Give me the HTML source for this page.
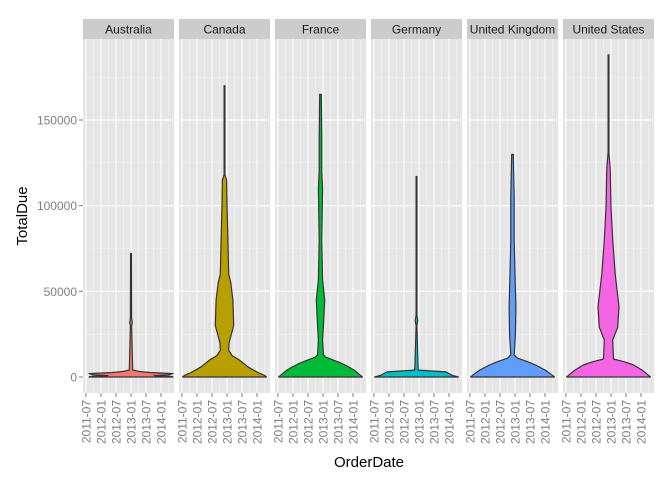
<!DOCTYPE html>
<html><head><meta charset="utf-8"><style>
html,body{margin:0;padding:0;background:#fff;}
svg{display:block;font-family:"Liberation Sans",sans-serif;}
</style></head><body>
<svg id="chart" width="672" height="480" viewBox="0 0 672 480"></svg>
<script>
const countries=["Australia","Canada","France","Germany","United Kingdom","United States"];
const colors=["#F8766D","#B79F00","#00BA38","#00BFC4","#619CFF","#F564E3"];
const yTicks=[0,50000,100000,150000];
const yTickLabels=["0","50000","100000","150000"];
const xTickLabels=["2011-07","2012-01","2012-07","2013-01","2013-07","2014-01"];
const centerMonth=[18,17,17,17,17,17];
const levAustralia=[0,400,800,1300,2000,2600,3200,4000,30000,32000,34000,72000];
const widAustralia=[1,0.95,0.55,0.9,1.0,0.45,0.2,0.04,0.015,0.03,0.015,0.01];
const levCanada=[0,1000,2500,6000,10000,12500,15500,20000,30000,45000,55000,60000,80000,100000,115000,118000,170000];
const widCanada=[1,0.95,0.8,0.55,0.35,0.18,0.1,0.11,0.22,0.2,0.15,0.1,0.08,0.06,0.05,0.01,0.005];
const levFrance=[0,1000,4000,5800,8000,10000,11600,13000,21600,35000,45000,56600,80000,110000,120000,140000,165000];
const widFrance=[1,0.95,0.8,0.68,0.5,0.3,0.12,0.07,0.05,0.08,0.1,0.05,0.03,0.05,0.03,0.03,0.02];
const levGermany=[0,1000,3000,4000,30000,33000,36000,117000];
const widGermany=[1,0.85,0.7,0.04,0.01,0.03,0.01,0.01];
const levUK=[0,1000,4000,7000,9000,11000,12800,25000,41000,60000,80000,105000,130000];
const widUK=[1,0.95,0.78,0.55,0.35,0.12,0.04,0.07,0.08,0.06,0.04,0.04,0.02];
const levUS=[0,1000,4000,7000,8700,10500,21600,29000,41000,60000,80000,99000,122000,131000,188000];
const widUS=[1,0.95,0.8,0.6,0.4,0.12,0.1,0.22,0.25,0.16,0.1,0.06,0.04,0.01,0.01];
const levels=[levAustralia,levCanada,levFrance,levGermany,levUK,levUS];
const widths=[widAustralia,widCanada,widFrance,widGermany,widUK,widUS];

const NS="http://www.w3.org/2000/svg";
const svg=document.getElementById("chart");
function mk(t,a,p){const e=document.createElementNS(NS,t);for(const k in a)e.setAttribute(k,a[k]);(p||svg).appendChild(e);return e;}
const plotTop=39,plotBottom=393,panelW=91,gap=5,left0=83;
function yS(v){return 377-v*(257/150000);}
function xS(i,m){return left0+i*(panelW+gap)+3+m*2.5;}
const halfMonths=16.8;

for(let i=0;i<countries.length;i++){
  const px=left0+i*(panelW+gap);
  const g=mk("g",{});
  
  
  const bg=mk("rect",{x:px,y:plotTop,width:panelW,height:plotBottom-plotTop,fill:"#E5E5E5"},g);
  
  
  [25000,75000,125000,175000].forEach(v=>mk("line",{x1:px,x2:px+panelW,y1:yS(v),y2:yS(v),stroke:"#F2F2F2","stroke-width":0.6},g));
  for(let k=0;k<6;k++){const x=xS(i,k*6+3);if(x<px+panelW)mk("line",{x1:x,x2:x,y1:plotTop,y2:plotBottom,stroke:"#F2F2F2","stroke-width":0.6},g);}
  yTicks.forEach(v=>mk("line",{x1:px,x2:px+panelW,y1:yS(v),y2:yS(v),stroke:"#fff","stroke-width":1.1},g));
  for(let k=0;k<6;k++){const x=xS(i,k*6);mk("line",{x1:x,x2:x,y1:plotTop,y2:plotBottom,stroke:"#fff","stroke-width":1.1},g);
    mk("line",{x1:x,x2:x,y1:plotBottom,y2:plotBottom+4,stroke:"#7F7F7F","stroke-width":1},g);
    const t=mk("text",{x:0,y:0,transform:`translate(${x+4.5},${plotBottom+7}) rotate(-90)`,"text-anchor":"end","font-size":12,fill:"#7F7F7F"},g);
    t.textContent=xTickLabels[k];
    
    
  }
  const st=mk("rect",{x:px,y:19,width:panelW,height:20,fill:"#CCCCCC"},g);
  
  
  const stt=mk("text",{x:px+panelW/2,y:33.5,"text-anchor":"middle","font-size":12,fill:"#1a1a1a"},g);
  stt.textContent=countries[i];
  
  
  const cx=xS(i,centerMonth[i]);const L=levels[i],W=widths[i];
  let right=[],leftp=[];
  for(let j=0;j<L.length;j++){const hw=Math.max(W[j]*halfMonths*2.5,0.4);const y=yS(L[j]);right.push((cx+hw).toFixed(1)+","+y.toFixed(1));leftp.unshift((cx-hw).toFixed(1)+","+y.toFixed(1));}
  const v=mk("polygon",{points:right.concat(leftp).join(" "),fill:colors[i],stroke:"#333333","stroke-width":1.2,"stroke-linejoin":"round"},g);
  
  
}
for(let k=0;k<yTicks.length;k++){
  const y=yS(yTicks[k]);
  mk("line",{x1:79,x2:83,y1:y,y2:y,stroke:"#7F7F7F","stroke-width":1});
  const t=mk("text",{x:77,y:y+4.5,"text-anchor":"end","font-size":12,fill:"#7F7F7F"});
  t.textContent=yTickLabels[k];
  
  
}
const yt=mk("text",{x:0,y:0,transform:"translate(27,216) rotate(-90)","text-anchor":"middle","font-size":15,fill:"#000"});
yt.textContent="TotalDue";


const xt=mk("text",{x:369,y:467,"text-anchor":"middle","font-size":15,fill:"#000"});
xt.textContent="OrderDate";


</script>
</body></html>
